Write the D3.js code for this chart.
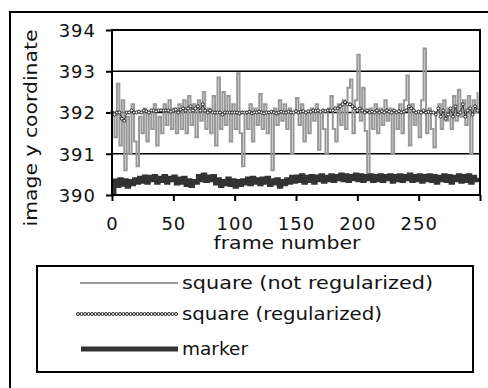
<!DOCTYPE html>
<html><head><meta charset="utf-8">
<script src="https://cdn.jsdelivr.net/npm/d3@7"></script>
<style>body{margin:0;background:#fff}svg{display:block}text{font-family:"DejaVu Sans",sans-serif;fill:#111}</style>
</head><body>
<script>
// frames sampled every 2
const frameStep = 2;
const notRegularized = [392.0,391.4,392.7,391.2,392.3,390.6,391.9,391.0,392.2,391.3,390.7,391.9,
391.5,392.1,391.3,392.0,391.6,392.2,391.2,391.9,
391.5,392.2,391.7,392.3,391.6,392.1,391.5,392.2,391.6,392.3,391.5,392.4,391.7,392.2,391.4,392.3,391.8,392.5,391.6,392.1,
391.5,392.4,391.2,392.85,391.6,392.5,391.7,392.4,391.3,392.2,391.6,392.95,391.5,390.7,392.0,391.6,
392.2,391.3,392.1,391.7,392.45,391.6,392.2,391.5,392.0,390.6,392.1,391.7,392.3,391.8,392.2,391.6,392.1,391.0,392.0,
392.35,391.7,392.2,391.3,392.0,391.5,392.1,391.8,392.2,391.1,392.0,391.6,391.0,392.1,392.4,391.6,391.3,392.2,391.7,392.3,
391.6,392.6,392.8,391.5,392.3,393.4,391.8,392.6,391.55,390.45,392.1,
391.6,392.2,391.5,392.1,391.7,392.3,391.8,392.1,391.0,392.0,391.6,392.2,391.5,392.3,392.9,391.2,392.2,391.7,392.0,
391.4,392.3,393.55,391.5,392.1,391.6,391.15,392.0,392.2,391.6,392.3,391.8,392.1,391.6,392.4,391.8,392.55,391.9,392.3,391.7,
392.4,391.0,392.3,392.0,392.5];
const regularized = [392.0,391.95,392.0,392.0,391.85,391.8,392.0,392.0,392.05,392.0,
392.0,392.02,392.0,392.05,392.03,392.0,392.05,392.05,392.03,392.05,
392.05,392.05,392.05,392.05,392.02,392.05,392.07,392.0,392.07,392.1,
392.05,392.1,392.15,392.05,392.1,392.15,392.05,392.2,392.05,392.0,
392.05,392.0,392.0,392.0,392.0,391.95,392.0,392.0,392.0,392.0,
392.0,392.0,391.98,392.0,392.0,392.0,392.02,391.98,392.0,392.0,
392.02,392.0,391.98,392.0,392.0,392.02,392.0,391.98,392.0,392.02,
392.0,392.0,392.02,392.0,392.0,392.03,392.0,392.02,392.03,392.0,
392.03,392.02,392.05,392.03,392.05,392.02,392.05,392.03,392.05,392.05,
392.05,392.1,392.1,392.15,392.2,392.25,392.2,392.2,392.15,392.1,
392.05,392.1,392.05,392.0,392.05,392.0,392.02,392.0,392.05,392.0,
392.03,392.0,392.05,392.02,392.0,392.05,392.0,392.03,392.0,392.02,
392.05,392.15,392.1,392.05,392.0,392.02,392.0,392.05,392.0,392.02,
392.0,392.0,391.95,392.1,391.9,392.05,391.85,391.95,392.1,391.9,
392.15,391.95,392.0,392.2,391.9,392.05,392.1,391.95,392.15,392.05];
const marker = [390.05,390.35,390.22,390.38,390.25,390.36,390.2,390.34,390.26,390.38,
390.3,390.42,390.32,390.45,390.3,390.44,390.36,390.46,390.3,390.42,
390.34,390.46,390.3,390.42,390.36,390.45,390.28,390.4,390.3,390.42,
390.24,390.36,390.22,390.34,390.3,390.46,390.36,390.5,390.34,390.45,
390.36,390.46,390.28,390.38,390.22,390.34,390.26,390.4,390.24,390.36,
390.2,390.34,390.24,390.36,390.28,390.4,390.26,390.42,390.3,390.38,
390.26,390.4,390.3,390.42,390.24,390.36,390.28,390.38,390.2,390.34,
390.26,390.38,390.3,390.44,390.32,390.45,390.34,390.48,390.3,390.44,
390.34,390.46,390.3,390.45,390.36,390.48,390.32,390.44,390.36,390.48,
390.34,390.46,390.38,390.5,390.36,390.48,390.34,390.46,390.38,390.5,
390.36,390.48,390.34,390.46,390.38,390.48,390.34,390.46,390.36,390.48,
390.34,390.46,390.38,390.48,390.32,390.46,390.36,390.48,390.34,390.46,
390.38,390.5,390.34,390.46,390.36,390.48,390.32,390.46,390.36,390.48,
390.34,390.46,390.3,390.44,390.36,390.48,390.34,390.46,390.3,390.44,
390.36,390.48,390.32,390.46,390.34,390.48,390.3,390.44,390.36,390.42];
const xTicks = [0,50,100,150,200,250,300];
const xTickLabels = ["0","50","100","150","200","250",""];
const yTicks = [390,391,392,393,394];
const legendLabels = ["square (not regularized)","square (regularized)","marker"];

const W=488,H=388;
const svg=d3.select("body").append("svg").attr("width",W).attr("height",H);
svg.append("rect").attr("width",W).attr("height",H).attr("fill","#fff");
// outer frame
svg.append("rect").attr("x",10).attr("y",12).attr("width",500).attr("height",400)
  .attr("fill","none").attr("stroke","#000").attr("stroke-width",2);

const L=112,R=480,T=30,B=195;
const x=d3.scaleLinear().domain([0,300]).range([L,R]);
const y=d3.scaleLinear().domain([390,394]).range([B,T]);
const frames = notRegularized.map((_,i)=>i*frameStep);

// gridlines
svg.append("g").selectAll("line").data(yTicks.filter(v=>v>390&&v<394)).join("line")
  .attr("x1",L).attr("x2",R).attr("y1",d=>y(d)).attr("y2",d=>y(d))
  .attr("stroke","#000").attr("stroke-width",1.6);

// axes
const yAxis=svg.append("g").attr("transform",`translate(${L},0)`)
  .call(d3.axisLeft(y).tickValues(yTicks).tickFormat(d3.format("d")).tickSize(6).tickPadding(10));
const xAxis=svg.append("g").attr("transform",`translate(0,${B})`)
  .call(d3.axisBottom(x).tickValues(xTicks).tickFormat((d,i)=>xTickLabels[i]).tickSize(6).tickPadding(16));
[yAxis,xAxis].forEach(a=>{
  a.select(".domain").remove();
  a.selectAll(".tick line").attr("stroke","#000").attr("stroke-width",2);
  a.selectAll("text").attr("font-size",18).attr("fill","#111").style("letter-spacing","1px")
   .attr("font-family","DejaVu Sans");
});
yAxis.selectAll("text").attr("dy","0.35em");

// series
const lineLin=d3.line().x((d,i)=>x(frames[i])).y(d=>y(d));
const lineStep=d3.line().x((d,i)=>x(frames[i])).y(d=>y(d)).curve(d3.curveStepAfter);
svg.append("path").datum(notRegularized).attr("d",lineStep)
  .attr("fill","none").attr("stroke","#999").attr("stroke-width",2);
svg.append("path").datum(regularized).attr("d",lineLin)
  .attr("fill","none").attr("stroke","#333").attr("stroke-width",1);
svg.append("g").selectAll("circle").data(regularized).join("circle")
  .attr("cx",(d,i)=>x(frames[i])).attr("cy",d=>y(d)).attr("r",1.5)
  .attr("fill","#fff").attr("stroke","#222").attr("stroke-width",1);
svg.append("path").datum(marker).attr("d",lineStep)
  .attr("fill","none").attr("stroke","#333").attr("stroke-width",4);

// plot frame
svg.append("rect").attr("x",L).attr("y",T).attr("width",R-L).attr("height",B-T)
  .attr("fill","none").attr("stroke","#000").attr("stroke-width",2);

// titles
svg.append("text").attr("x",287).attr("y",249).attr("text-anchor","middle")
  .attr("font-size",18).attr("textLength",147).attr("lengthAdjust","spacingAndGlyphs").text("frame number");
svg.append("text").attr("transform","translate(37,128) rotate(-90)").attr("text-anchor","middle")
  .attr("font-size",18).attr("textLength",197).attr("lengthAdjust","spacingAndGlyphs").text("image y coordinate");

// legend
svg.append("rect").attr("x",37).attr("y",266).attr("width",436).attr("height",106)
  .attr("fill","none").attr("stroke","#000").attr("stroke-width",2);
const ly=[283,314,349];
const lw=[251,200,66];
legendLabels.forEach((t,i)=>{
  svg.append("text").attr("x",182).attr("y",ly[i]).attr("dy","0.35em").attr("font-size",18)
    .attr("textLength",lw[i]).attr("lengthAdjust","spacingAndGlyphs").text(t);
});
svg.append("line").attr("x1",80).attr("x2",178).attr("y1",ly[0]).attr("y2",ly[0])
  .attr("stroke","#999").attr("stroke-width",2);
svg.append("line").attr("x1",77).attr("x2",178).attr("y1",ly[1]).attr("y2",ly[1])
  .attr("stroke","#333").attr("stroke-width",1);
svg.append("g").selectAll("circle").data(d3.range(78,178,3.5)).join("circle")
  .attr("cx",d=>d).attr("cy",ly[1]).attr("r",1.5).attr("fill","#fff").attr("stroke","#222").attr("stroke-width",1);
svg.append("line").attr("x1",81).attr("x2",178).attr("y1",ly[2]).attr("y2",ly[2])
  .attr("stroke","#333").attr("stroke-width",5);
</script>
</body></html>
